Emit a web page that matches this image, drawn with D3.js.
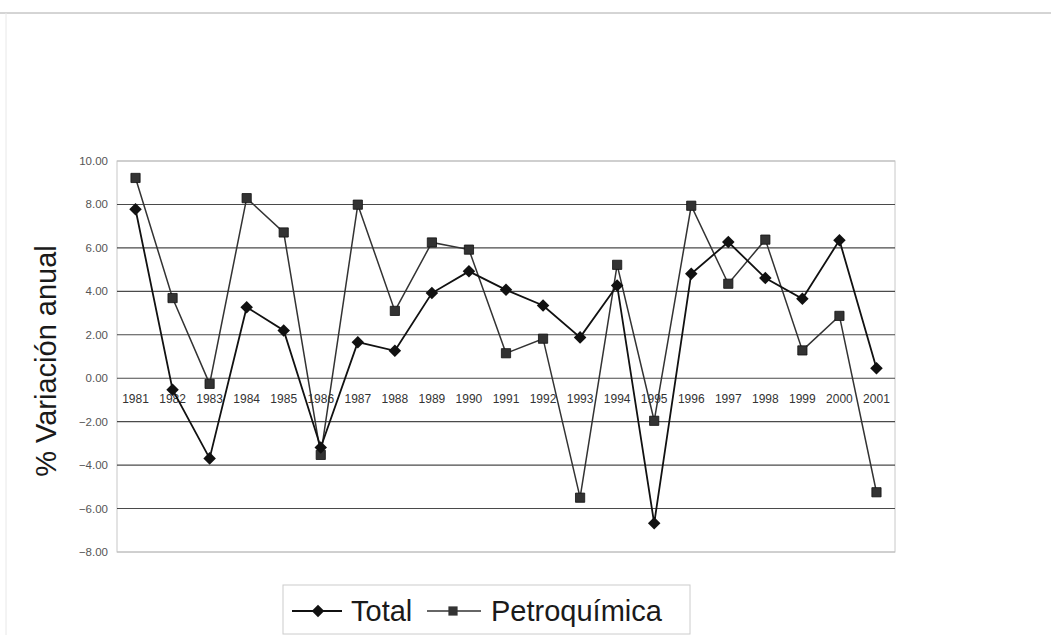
<!DOCTYPE html>
<meta charset="utf-8">
<script src="https://d3js.org/d3.v7.min.js"></script>
<style>
body{margin:0;background:#fff;}
text{font-family:Arial,"Liberation Sans",sans-serif;}
</style>
<div id="chart"></div>
<script>

// data
var years = ["1981","1982","1983","1984","1985","1986","1987","1988","1989","1990","1991",
	"1992","1993","1994","1995","1996","1997","1998","1999","2000","2001"]
var total = [7.78,-0.53,-3.69,3.27,2.20,-3.19,1.66,1.26,3.92,4.92,4.07,
	3.35,1.88,4.27,-6.68,4.81,6.27,4.61,3.66,6.35,0.46]
var petro = [9.22,3.69,-0.26,8.29,6.71,-3.53,7.99,3.10,6.25,5.92,1.15,
	1.82,-5.50,5.22,-1.96,7.94,4.35,6.38,1.28,2.87,-5.25]
var yTicks = [-8,-6,-4,-2,0,2,4,6,8,10]
var seriesNames = ["Total","Petroquímica"]

var width = 1051, height = 635
var svg = d3.select("#chart").append("svg").attr("width",width).attr("height",height)

// faint page frame from the scan
svg.append("line").attr("x1",0).attr("x2",width).attr("y1",13).attr("y2",13)
	.attr("stroke","#aaa").attr("stroke-width",1)
svg.append("line").attr("x1",6).attr("x2",6).attr("y1",13).attr("y2",height)
	.attr("stroke","#e8e8e8")

var pLeft = 117, pRight = 895, pTop = 161, pBottom = 552

var x = d3.scalePoint()
	.domain(years)
	.range([pLeft, pRight])
	.padding(0.5)

var y = d3.scaleLinear()
	.domain([-8, 10])
	.range([pBottom, pTop])

// plot border
svg.append("rect").attr("x",pLeft).attr("y",pTop).attr("width",pRight-pLeft).attr("height",pBottom-pTop)
	.attr("fill","none").attr("stroke","#c8c8c8")

// gridlines
svg.append("g")
	.selectAll("line")
	.data(yTicks)
	.join("line")
	.attr("x1",pLeft).attr("x2",pRight)
	.attr("y1",d => y(d)).attr("y2",d => y(d))
	.attr("stroke",d => d==10 || d==-8 ? "#bbb" : "#4a4a4a")
	.attr("stroke-width",1.1)

// y axis labels
svg.append("g")
	.selectAll("text")
	.data(yTicks)
	.join("text")
	.text(d => d3.format(".2f")(d))
	.attr("x",pLeft-9)
	.attr("y",d => y(d)+4)
	.attr("text-anchor","end")
	.attr("font-size",11.5)
	.attr("fill","#555")

// year labels sit just under the zero line
svg.append("g")
	.selectAll("text")
	.data(years)
	.join("text")
	.text(d => d)
	.attr("x",d => x(d))
	.attr("y",y(0)+25)
	.attr("text-anchor","middle")
	.attr("font-size",12)
	.attr("fill","#333")

// y title
svg.append("text")
	.text("% Variación anual")
	.attr("transform","translate(56,361) rotate(-90)")
	.attr("text-anchor","middle")
	.attr("font-size",29)
	.attr("fill","#1a1a1a")

var line = d3.line()
	.x((d,i) => x(years[i]))
	.y(d => y(d))

svg.append("path").datum(petro).attr("d",line)
	.attr("fill","none").attr("stroke","#333").attr("stroke-width",1.5)
svg.append("path").datum(total).attr("d",line)
	.attr("fill","none").attr("stroke","#111").attr("stroke-width",1.8)

var diamond = d3.symbol().type(d3.symbolDiamond2).size(100)
var square = d3.symbol().type(d3.symbolSquare).size(85)

svg.append("g").selectAll("path")
	.data(petro)
	.join("path")
	.attr("d",square)
	.attr("transform",(d,i) => "translate("+x(years[i])+","+y(d)+")")
	.attr("fill","#333").attr("stroke","#111").attr("stroke-width",0.8)

svg.append("g").selectAll("path")
	.data(total)
	.join("path")
	.attr("d",diamond)
	.attr("transform",(d,i) => "translate("+x(years[i])+","+y(d)+")")
	.attr("fill","#111")

// legend
var lg = svg.append("g")
lg.append("rect").attr("x",283).attr("y",585).attr("width",407).attr("height",49)
	.attr("fill","none").attr("stroke","#ccc")
var ly = 611
lg.append("line").attr("x1",292).attr("x2",342).attr("y1",ly).attr("y2",ly)
	.attr("stroke","#111").attr("stroke-width",1.8)
lg.append("path").attr("d",diamond).attr("transform","translate(318,"+ly+")").attr("fill","#111")
lg.append("text").text(seriesNames[0]).attr("x",351).attr("y",ly+10)
	.attr("font-size",29).attr("fill","#1a1a1a")
lg.append("line").attr("x1",427).attr("x2",481).attr("y1",ly).attr("y2",ly)
	.attr("stroke","#333").attr("stroke-width",1.5)
lg.append("path").attr("d",square).attr("transform","translate(453,"+ly+")").attr("fill","#333")
lg.append("text").text(seriesNames[1]).attr("x",491).attr("y",ly+10)
	.attr("font-size",29).attr("fill","#1a1a1a")

</script>
